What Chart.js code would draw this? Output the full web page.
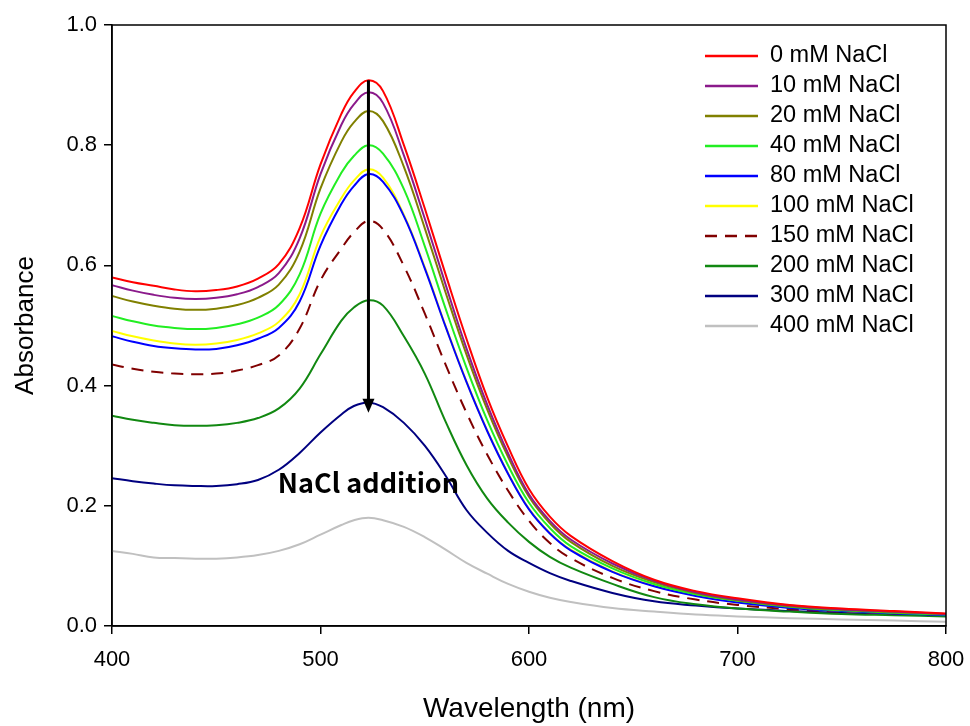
<!DOCTYPE html>
<html>
<head>
<meta charset="utf-8">
<script src="https://cdn.jsdelivr.net/npm/chart.js@4.4.0/dist/chart.umd.min.js"></script>
<style>
html, body { margin: 0; padding: 0; background: #fff; }
</style>
</head>
<body>
<canvas id="graf" width="970" height="726"></canvas>
<script>
const wavelengths = [400, 410, 420, 430, 440, 450, 460, 470, 480, 490, 500, 510, 516, 523, 530, 540, 550, 560, 570, 580, 590, 600, 610, 620, 640, 660, 680, 700, 725, 750, 775, 800];

const nacl0   = [.580, .572, .566, .560, .557, .559, .565, .578, .602, .662, .768, .852, .888, .908, .890, .800, .695, .585, .478, .380, .298, .228, .182, .150, .108, .077, .058, .046, .035, .029, .025, .021];
const nacl10  = [.567, .558, .551, .546, .544, .546, .552, .564, .587, .645, .752, .834, .868, .888, .870, .783, .678, .568, .462, .368, .287, .219, .175, .144, .104, .075, .056, .044, .034, .028, .024, .020];
const nacl20  = [.549, .540, .533, .528, .526, .528, .534, .546, .568, .623, .728, .806, .838, .857, .840, .764, .662, .555, .452, .360, .281, .215, .171, .140, .100, .073, .055, .043, .033, .027, .023, .020];
const nacl40  = [.516, .507, .500, .496, .494, .496, .502, .513, .534, .585, .686, .754, .782, .800, .786, .727, .632, .528, .430, .342, .267, .205, .163, .133, .096, .070, .053, .042, .032, .026, .022, .019];
const nacl80  = [.482, .473, .466, .462, .460, .461, .467, .478, .496, .540, .633, .702, .732, .752, .739, .682, .595, .498, .406, .324, .253, .194, .154, .126, .090, .066, .050, .039, .030, .025, .021, .018];
const nacl100 = [.491, .482, .475, .470, .468, .470, .476, .487, .506, .552, .648, .712, .741, .760, .746, .684, .597, .499, .407, .325, .254, .195, .155, .127, .091, .067, .051, .040, .031, .025, .022, .019];
const nacl150 = [.435, .428, .423, .420, .419, .420, .425, .434, .450, .495, .575, .628, .655, .674, .660, .599, .520, .435, .355, .285, .225, .175, .138, .113, .080, .058, .044, .035, .028, .024, .021, .019];
const nacl200 = [.350, .343, .338, .334, .333, .334, .338, .346, .362, .395, .452, .508, .530, .542, .533, .482, .420, .340, .268, .212, .172, .140, .115, .097, .070, .048, .036, .029, .024, .020, .018, .016];
const nacl300 = [.246, .241, .237, .234, .233, .233, .236, .243, .260, .288, .322, .352, .366, .372, .364, .338, .300, .250, .193, .155, .125, .105, .088, .075, .055, .041, .034, .029, .025, .022, .020, .018];
const nacl400 = [.125, .120, .114, .113, .112, .112, .114, .118, .125, .136, .152, .168, .176, .180, .176, .165, .148, .127, .105, .087, .070, .057, .047, .040, .030, .024, .019, .016, .013, .011, .009, .007];

const seriesLabels = ['0 mM NaCl', '10 mM NaCl', '20 mM NaCl', '40 mM NaCl', '80 mM NaCl', '100 mM NaCl', '150 mM NaCl', '200 mM NaCl', '300 mM NaCl', '400 mM NaCl'];
const seriesValues = [nacl0, nacl10, nacl20, nacl40, nacl80, nacl100, nacl150, nacl200, nacl300, nacl400];
const seriesColors = ['#ff0000', '#8b1a8b', '#808000', '#22ee22', '#0000ff', '#ffff00', '#800000', '#118811', '#000080', '#c0c0c0'];

// arrow: from the top of the 0 mM peak down to the 300 mM peak
const arrowX = 523;
const arrowTop = 0.908;
const arrowEnd = 0.355;
const noteText = 'NaCl addition';
const noteAt = [523, 0.238];

const datasets = seriesLabels.map((lab, i) => ({
    label: lab,
    data: wavelengths.map((w, j) => ({ x: w, y: seriesValues[i][j] })),
    borderColor: seriesColors[i],
    backgroundColor: seriesColors[i],
    borderWidth: 2,
    borderDash: lab.startsWith('150') ? [12, 8] : [],
    pointRadius: 0,
    tension: 0.4,
    fill: false
}));

/* frame, legend and arrow ----------------------------------------- */
const extras = {
    id: 'extras',
    afterDatasetsDraw(chart) {
        const c = chart.ctx;
        const a = chart.chartArea;
        const xs = chart.scales.x;
        const ys = chart.scales.y;

        c.save();
        c.strokeStyle = '#000';
        c.lineWidth = 1.5;
        c.strokeRect(a.left, a.top, a.right - a.left, a.bottom - a.top);

        // legend
        c.font = '23.5px "Liberation Sans", Arial, sans-serif';
        c.textBaseline = 'middle';
        c.textAlign = 'left';
        chart.data.datasets.forEach((ds, i) => {
            const y = a.top + 31 + i * 30;
            c.strokeStyle = ds.borderColor;
            c.lineWidth = 2.5;
            c.setLineDash(ds.borderDash);
            c.beginPath();
            c.moveTo(a.right - 241, y);
            c.lineTo(a.right - 188, y);
            c.stroke();
            c.setLineDash([]);
            c.fillStyle = '#000';
            c.fillText(ds.label, a.right - 176, y);
        });

        // arrow
        const ax = xs.getPixelForValue(arrowX);
        const y1 = ys.getPixelForValue(arrowTop);
        const y2 = ys.getPixelForValue(arrowEnd);
        c.strokeStyle = '#000';
        c.fillStyle = '#000';
        c.lineWidth = 3;
        c.beginPath();
        c.moveTo(ax, y1);
        c.lineTo(ax, y2 - 12);
        c.stroke();
        c.beginPath();
        c.moveTo(ax - 6, y2 - 14);
        c.lineTo(ax + 6, y2 - 14);
        c.lineTo(ax, y2);
        c.closePath();
        c.fill();

        c.font = 'bold 27px "Noto Sans CJK KR", "Open Sans", sans-serif';
        c.textAlign = 'center';
        c.fillText(noteText, xs.getPixelForValue(noteAt[0]), ys.getPixelForValue(noteAt[1]));
        c.restore();
    }
};

const tickFont = { family: '"Liberation Sans", Arial, sans-serif', size: 22 };

let myChart = new Chart(document.getElementById('graf'), {
    type: 'line',
    data: { datasets: datasets },
    options: {
        responsive: false,
        animation: false,
        layout: { padding: { top: 25, right: 24, left: 0, bottom: 0 } },
        plugins: {
            legend: { display: false },
            tooltip: { enabled: false }
        },
        scales: {
            x: {
                type: 'linear',
                min: 400,
                max: 800,
                afterFit: (s) => { s.height = 100; s.paddingRight = 0; s.paddingLeft = 0; },
                ticks: { stepSize: 100, color: '#000', font: tickFont, padding: 13 },
                grid: { drawOnChartArea: false, drawTicks: true, tickLength: 8, color: '#000', lineWidth: 1.5 },
                border: { display: true, color: '#000', width: 1.5 },
                title: {
                    display: true,
                    text: 'Wavelength (nm)',
                    color: '#000',
                    font: { family: '"Liberation Sans", Arial, sans-serif', size: 28 },
                    padding: { top: 0, bottom: 0 }
                }
            },
            y: {
                min: 0,
                max: 1,
                afterFit: (s) => { s.width = 112; },
                ticks: {
                    stepSize: 0.2,
                    color: '#000',
                    font: tickFont,
                    padding: 7,
                    callback: (v) => v.toFixed(1)
                },
                grid: { drawOnChartArea: false, drawTicks: true, tickLength: 8, color: '#000', lineWidth: 1.5 },
                border: { display: true, color: '#000', width: 1.5 },
                title: {
                    display: true,
                    text: 'Absorbance',
                    color: '#000',
                    font: { family: '"Liberation Sans", Arial, sans-serif', size: 26 },
                    padding: { top: 10, bottom: 0 }
                }
            }
        }
    },
    plugins: [extras]
});
</script>
</body>
</html>
